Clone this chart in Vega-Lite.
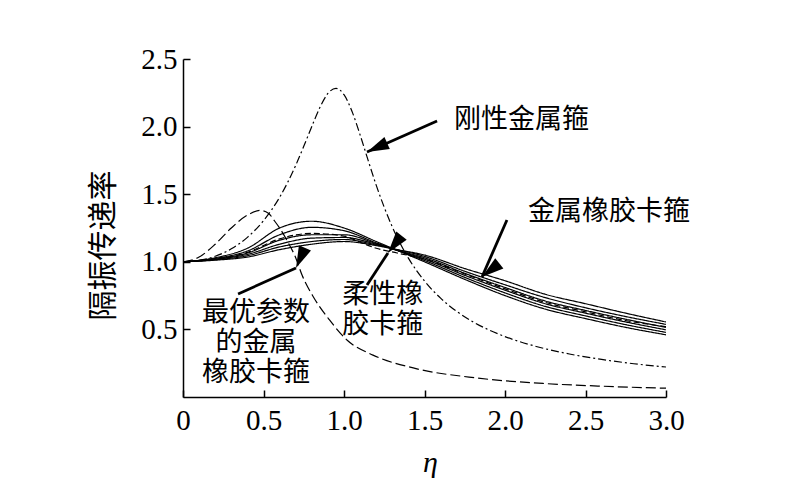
{
  "$schema": "https://vega.github.io/schema/vega-lite/v6.json",
  "autosize": {"type": "none"},
  "padding": {"left": 183, "top": 59, "right": 134, "bottom": 102},
  "width": 483,
  "height": 338,
  "background": "white",
  "config": {
    "view": {"stroke": null},
    "axis": {
      "domainColor": "black", "domainWidth": 1.5,
      "tickColor": "black", "tickWidth": 1.5, "tickSize": -7,
      "grid": false,
      "labelColor": "black", "labelFont": "Liberation Serif", "labelFontSize": 29,
      "titleColor": "black", "titleFontWeight": "normal"
    }
  },
  "datasets": {
    "curves": [
      {"curve": "刚性金属箍", "eta": 0, "T": 1.0},
      {"curve": "刚性金属箍", "eta": 0.1, "T": 1.01},
      {"curve": "刚性金属箍", "eta": 0.2, "T": 1.041},
      {"curve": "刚性金属箍", "eta": 0.3, "T": 1.096},
      {"curve": "刚性金属箍", "eta": 0.4, "T": 1.181},
      {"curve": "刚性金属箍", "eta": 0.5, "T": 1.304},
      {"curve": "刚性金属箍", "eta": 0.6, "T": 1.477},
      {"curve": "刚性金属箍", "eta": 0.65, "T": 1.587},
      {"curve": "刚性金属箍", "eta": 0.7, "T": 1.713},
      {"curve": "刚性金属箍", "eta": 0.75, "T": 1.854},
      {"curve": "刚性金属箍", "eta": 0.8, "T": 2.001},
      {"curve": "刚性金属箍", "eta": 0.85, "T": 2.141},
      {"curve": "刚性金属箍", "eta": 0.9, "T": 2.245},
      {"curve": "刚性金属箍", "eta": 0.95, "T": 2.283},
      {"curve": "刚性金属箍", "eta": 1.0, "T": 2.236},
      {"curve": "刚性金属箍", "eta": 1.05, "T": 2.112},
      {"curve": "刚性金属箍", "eta": 1.1, "T": 1.939},
      {"curve": "刚性金属箍", "eta": 1.15, "T": 1.75},
      {"curve": "刚性金属箍", "eta": 1.2, "T": 1.567},
      {"curve": "刚性金属箍", "eta": 1.25, "T": 1.403},
      {"curve": "刚性金属箍", "eta": 1.3, "T": 1.258},
      {"curve": "刚性金属箍", "eta": 1.4, "T": 1.027},
      {"curve": "刚性金属箍", "eta": 1.5, "T": 0.858},
      {"curve": "刚性金属箍", "eta": 1.6, "T": 0.731},
      {"curve": "刚性金属箍", "eta": 1.7, "T": 0.633},
      {"curve": "刚性金属箍", "eta": 1.8, "T": 0.557},
      {"curve": "刚性金属箍", "eta": 2.0, "T": 0.447},
      {"curve": "刚性金属箍", "eta": 2.2, "T": 0.372},
      {"curve": "刚性金属箍", "eta": 2.4, "T": 0.318},
      {"curve": "刚性金属箍", "eta": 2.6, "T": 0.278},
      {"curve": "刚性金属箍", "eta": 2.8, "T": 0.246},
      {"curve": "刚性金属箍", "eta": 3.0, "T": 0.222},

      {"curve": "最优参数的金属橡胶卡箍", "eta": 0, "T": 1.0},
      {"curve": "最优参数的金属橡胶卡箍", "eta": 0.1, "T": 1.035},
      {"curve": "最优参数的金属橡胶卡箍", "eta": 0.2, "T": 1.13},
      {"curve": "最优参数的金属橡胶卡箍", "eta": 0.3, "T": 1.25},
      {"curve": "最优参数的金属橡胶卡箍", "eta": 0.4, "T": 1.345},
      {"curve": "最优参数的金属橡胶卡箍", "eta": 0.48, "T": 1.38},
      {"curve": "最优参数的金属橡胶卡箍", "eta": 0.53, "T": 1.36},
      {"curve": "最优参数的金属橡胶卡箍", "eta": 0.57, "T": 1.3},
      {"curve": "最优参数的金属橡胶卡箍", "eta": 0.6, "T": 1.25},
      {"curve": "最优参数的金属橡胶卡箍", "eta": 0.645, "T": 1.16},
      {"curve": "最优参数的金属橡胶卡箍", "eta": 0.7, "T": 1.03},
      {"curve": "最优参数的金属橡胶卡箍", "eta": 0.74, "T": 0.9},
      {"curve": "最优参数的金属橡胶卡箍", "eta": 0.81, "T": 0.74},
      {"curve": "最优参数的金属橡胶卡箍", "eta": 0.91, "T": 0.57},
      {"curve": "最优参数的金属橡胶卡箍", "eta": 1.02, "T": 0.42},
      {"curve": "最优参数的金属橡胶卡箍", "eta": 1.18, "T": 0.31},
      {"curve": "最优参数的金属橡胶卡箍", "eta": 1.43, "T": 0.215},
      {"curve": "最优参数的金属橡胶卡箍", "eta": 1.83, "T": 0.14},
      {"curve": "最优参数的金属橡胶卡箍", "eta": 2.24, "T": 0.1},
      {"curve": "最优参数的金属橡胶卡箍", "eta": 2.6, "T": 0.08},
      {"curve": "最优参数的金属橡胶卡箍", "eta": 3.0, "T": 0.065},

      {"curve": "柔性橡胶卡箍", "eta": 0, "T": 1.0},
      {"curve": "柔性橡胶卡箍", "eta": 0.2, "T": 1.02},
      {"curve": "柔性橡胶卡箍", "eta": 0.4, "T": 1.07},
      {"curve": "柔性橡胶卡箍", "eta": 0.6, "T": 1.17},
      {"curve": "柔性橡胶卡箍", "eta": 0.8, "T": 1.21},
      {"curve": "柔性橡胶卡箍", "eta": 1.0, "T": 1.19},
      {"curve": "柔性橡胶卡箍", "eta": 1.1, "T": 1.145},
      {"curve": "柔性橡胶卡箍", "eta": 1.2, "T": 1.1},
      {"curve": "柔性橡胶卡箍", "eta": 1.33, "T": 1.065},
      {"curve": "柔性橡胶卡箍", "eta": 1.5, "T": 1.02},
      {"curve": "柔性橡胶卡箍", "eta": 1.75, "T": 0.91},
      {"curve": "柔性橡胶卡箍", "eta": 2.0, "T": 0.8},
      {"curve": "柔性橡胶卡箍", "eta": 2.25, "T": 0.7},
      {"curve": "柔性橡胶卡箍", "eta": 2.5, "T": 0.63},
      {"curve": "柔性橡胶卡箍", "eta": 2.75, "T": 0.565},
      {"curve": "柔性橡胶卡箍", "eta": 3.0, "T": 0.52},

      {"curve": "金属橡胶卡箍A", "eta": 0, "T": 1.0},
      {"curve": "金属橡胶卡箍A", "eta": 0.2, "T": 1.03},
      {"curve": "金属橡胶卡箍A", "eta": 0.4, "T": 1.1},
      {"curve": "金属橡胶卡箍A", "eta": 0.6, "T": 1.25},
      {"curve": "金属橡胶卡箍A", "eta": 0.8, "T": 1.3},
      {"curve": "金属橡胶卡箍A", "eta": 1.0, "T": 1.25},
      {"curve": "金属橡胶卡箍A", "eta": 1.2, "T": 1.15},
      {"curve": "金属橡胶卡箍A", "eta": 1.33, "T": 1.085},
      {"curve": "金属橡胶卡箍A", "eta": 1.5, "T": 1.0},
      {"curve": "金属橡胶卡箍A", "eta": 1.75, "T": 0.87},
      {"curve": "金属橡胶卡箍A", "eta": 2.0, "T": 0.75},
      {"curve": "金属橡胶卡箍A", "eta": 2.25, "T": 0.65},
      {"curve": "金属橡胶卡箍A", "eta": 2.5, "T": 0.58},
      {"curve": "金属橡胶卡箍A", "eta": 2.75, "T": 0.515},
      {"curve": "金属橡胶卡箍A", "eta": 3.0, "T": 0.46},

      {"curve": "金属橡胶卡箍B", "eta": 0, "T": 1.0},
      {"curve": "金属橡胶卡箍B", "eta": 0.2, "T": 1.025},
      {"curve": "金属橡胶卡箍B", "eta": 0.4, "T": 1.08},
      {"curve": "金属橡胶卡箍B", "eta": 0.6, "T": 1.2},
      {"curve": "金属橡胶卡箍B", "eta": 0.8, "T": 1.255},
      {"curve": "金属橡胶卡箍B", "eta": 1.0, "T": 1.23},
      {"curve": "金属橡胶卡箍B", "eta": 1.2, "T": 1.14},
      {"curve": "金属橡胶卡箍B", "eta": 1.33, "T": 1.085},
      {"curve": "金属橡胶卡箍B", "eta": 1.5, "T": 1.01},
      {"curve": "金属橡胶卡箍B", "eta": 1.75, "T": 0.885},
      {"curve": "金属橡胶卡箍B", "eta": 2.0, "T": 0.77},
      {"curve": "金属橡胶卡箍B", "eta": 2.25, "T": 0.67},
      {"curve": "金属橡胶卡箍B", "eta": 2.5, "T": 0.6},
      {"curve": "金属橡胶卡箍B", "eta": 2.75, "T": 0.535},
      {"curve": "金属橡胶卡箍B", "eta": 3.0, "T": 0.478},

      {"curve": "金属橡胶卡箍C", "eta": 0, "T": 1.0},
      {"curve": "金属橡胶卡箍C", "eta": 0.2, "T": 1.02},
      {"curve": "金属橡胶卡箍C", "eta": 0.4, "T": 1.065},
      {"curve": "金属橡胶卡箍C", "eta": 0.6, "T": 1.16},
      {"curve": "金属橡胶卡箍C", "eta": 0.8, "T": 1.2},
      {"curve": "金属橡胶卡箍C", "eta": 1.0, "T": 1.2},
      {"curve": "金属橡胶卡箍C", "eta": 1.2, "T": 1.135},
      {"curve": "金属橡胶卡箍C", "eta": 1.33, "T": 1.085},
      {"curve": "金属橡胶卡箍C", "eta": 1.5, "T": 1.02},
      {"curve": "金属橡胶卡箍C", "eta": 1.75, "T": 0.9},
      {"curve": "金属橡胶卡箍C", "eta": 2.0, "T": 0.79},
      {"curve": "金属橡胶卡箍C", "eta": 2.25, "T": 0.69},
      {"curve": "金属橡胶卡箍C", "eta": 2.5, "T": 0.62},
      {"curve": "金属橡胶卡箍C", "eta": 2.75, "T": 0.555},
      {"curve": "金属橡胶卡箍C", "eta": 3.0, "T": 0.497},

      {"curve": "金属橡胶卡箍D", "eta": 0, "T": 1.0},
      {"curve": "金属橡胶卡箍D", "eta": 0.2, "T": 1.018},
      {"curve": "金属橡胶卡箍D", "eta": 0.4, "T": 1.055},
      {"curve": "金属橡胶卡箍D", "eta": 0.6, "T": 1.13},
      {"curve": "金属橡胶卡箍D", "eta": 0.8, "T": 1.175},
      {"curve": "金属橡胶卡箍D", "eta": 1.0, "T": 1.18},
      {"curve": "金属橡胶卡箍D", "eta": 1.2, "T": 1.13},
      {"curve": "金属橡胶卡箍D", "eta": 1.33, "T": 1.085},
      {"curve": "金属橡胶卡箍D", "eta": 1.5, "T": 1.03},
      {"curve": "金属橡胶卡箍D", "eta": 1.75, "T": 0.915},
      {"curve": "金属橡胶卡箍D", "eta": 2.0, "T": 0.81},
      {"curve": "金属橡胶卡箍D", "eta": 2.25, "T": 0.71},
      {"curve": "金属橡胶卡箍D", "eta": 2.5, "T": 0.64},
      {"curve": "金属橡胶卡箍D", "eta": 2.75, "T": 0.575},
      {"curve": "金属橡胶卡箍D", "eta": 3.0, "T": 0.515},

      {"curve": "金属橡胶卡箍E", "eta": 0, "T": 1.0},
      {"curve": "金属橡胶卡箍E", "eta": 0.2, "T": 1.015},
      {"curve": "金属橡胶卡箍E", "eta": 0.4, "T": 1.045},
      {"curve": "金属橡胶卡箍E", "eta": 0.6, "T": 1.11},
      {"curve": "金属橡胶卡箍E", "eta": 0.8, "T": 1.15},
      {"curve": "金属橡胶卡箍E", "eta": 1.0, "T": 1.165},
      {"curve": "金属橡胶卡箍E", "eta": 1.2, "T": 1.125},
      {"curve": "金属橡胶卡箍E", "eta": 1.33, "T": 1.09},
      {"curve": "金属橡胶卡箍E", "eta": 1.5, "T": 1.04},
      {"curve": "金属橡胶卡箍E", "eta": 1.75, "T": 0.93},
      {"curve": "金属橡胶卡箍E", "eta": 2.0, "T": 0.83},
      {"curve": "金属橡胶卡箍E", "eta": 2.25, "T": 0.735},
      {"curve": "金属橡胶卡箍E", "eta": 2.5, "T": 0.66},
      {"curve": "金属橡胶卡箍E", "eta": 2.75, "T": 0.595},
      {"curve": "金属橡胶卡箍E", "eta": 3.0, "T": 0.537},

      {"curve": "金属橡胶卡箍F", "eta": 0, "T": 1.0},
      {"curve": "金属橡胶卡箍F", "eta": 0.2, "T": 1.012},
      {"curve": "金属橡胶卡箍F", "eta": 0.4, "T": 1.035},
      {"curve": "金属橡胶卡箍F", "eta": 0.6, "T": 1.09},
      {"curve": "金属橡胶卡箍F", "eta": 0.8, "T": 1.13},
      {"curve": "金属橡胶卡箍F", "eta": 1.0, "T": 1.15},
      {"curve": "金属橡胶卡箍F", "eta": 1.2, "T": 1.12},
      {"curve": "金属橡胶卡箍F", "eta": 1.33, "T": 1.09},
      {"curve": "金属橡胶卡箍F", "eta": 1.5, "T": 1.05},
      {"curve": "金属橡胶卡箍F", "eta": 1.75, "T": 0.95},
      {"curve": "金属橡胶卡箍F", "eta": 2.0, "T": 0.86},
      {"curve": "金属橡胶卡箍F", "eta": 2.25, "T": 0.76},
      {"curve": "金属橡胶卡箍F", "eta": 2.5, "T": 0.69},
      {"curve": "金属橡胶卡箍F", "eta": 2.75, "T": 0.62},
      {"curve": "金属橡胶卡箍F", "eta": 3.0, "T": 0.555}
    ],
    "arrows": [
      {"name": "刚性金属箍", "x": 1.578, "y": 2.041, "x2": 1.143, "y2": 1.812},
      {"name": "金属橡胶卡箍", "x": 2.012, "y": 1.309, "x2": 1.857, "y2": 0.888},
      {"name": "柔性橡胶卡箍", "x": 1.143, "y": 0.828, "x2": 1.273, "y2": 1.065},
      {"name": "最优参数的金属橡胶卡箍", "x": 0.342, "y": 0.762, "x2": 0.702, "y2": 0.954}
    ],
    "labels": [
      {"text": "刚性金属箍", "x": 2.102, "y": 2.049},
      {"text": "金属橡胶卡箍", "x": 2.646, "y": 1.368},
      {"text": "柔性橡", "x": 1.24, "y": 0.751},
      {"text": "胶卡箍", "x": 1.24, "y": 0.529},
      {"text": "最优参数", "x": 0.453, "y": 0.621},
      {"text": "的金属", "x": 0.453, "y": 0.399},
      {"text": "橡胶卡箍", "x": 0.453, "y": 0.177}
    ]
  },
  "layer": [
    {
      "data": {"name": "curves"},
      "mark": {"type": "line", "color": "black", "strokeWidth": 1.2, "interpolate": "monotone", "clip": true},
      "encoding": {
        "x": {
          "field": "eta", "type": "quantitative", "title": "η",
          "scale": {"domain": [0, 3], "nice": false, "zero": false},
          "axis": {
            "values": [0, 0.5, 1, 1.5, 2, 2.5, 3],
            "labelExpr": "datum.value == 0 ? '0' : format(datum.value, '.1f')",
            "labelPadding": 16, "labelFlush": false, "labelOverlap": false,
            "titleFont": "Liberation Serif", "titleFontStyle": "italic", "titleFontSize": 30,
            "titleX": 247, "titleY": 65, "titleBaseline": "middle", "titleAlign": "center"
          }
        },
        "y": {
          "field": "T", "type": "quantitative", "title": "隔振传递率",
          "scale": {"domain": [0, 2.5], "nice": false, "zero": false},
          "axis": {
            "values": [0.5, 1, 1.5, 2, 2.5],
            "format": ".1f",
            "labelPadding": 13, "labelFlush": false, "labelOverlap": false,
            "titleFont": "Noto Sans CJK SC", "titleFontSize": 30,
            "titleX": -80, "titleY": 186, "titleAngle": -90, "titleBaseline": "middle", "titleAlign": "center"
          }
        },
        "detail": {"field": "curve", "type": "nominal"},
        "strokeDash": {
          "field": "curve", "type": "nominal", "legend": null,
          "scale": {
            "domain": ["金属橡胶卡箍A", "金属橡胶卡箍B", "金属橡胶卡箍C", "金属橡胶卡箍D", "金属橡胶卡箍E", "金属橡胶卡箍F", "柔性橡胶卡箍", "最优参数的金属橡胶卡箍", "刚性金属箍"],
            "range": [[1, 0], [1, 0], [1, 0], [1, 0], [1, 0], [1, 0], [6, 3], [10, 4], [8, 3, 2, 3]]
          }
        }
      }
    },
    {
      "data": {"name": "arrows"},
      "mark": {"type": "rule", "color": "black", "strokeWidth": 2.8},
      "encoding": {
        "x": {"field": "x", "type": "quantitative", "title": "η"},
        "y": {"field": "y", "type": "quantitative", "title": "隔振传递率"},
        "x2": {"field": "x2"},
        "y2": {"field": "y2"}
      }
    },
    {
      "data": {"name": "arrows"},
      "mark": {"type": "point", "filled": true, "color": "black", "opacity": 1, "strokeWidth": 0, "shape": "M0,0L-0.3,1L0.3,1Z", "size": 1936},
      "encoding": {
        "x": {"field": "x2", "type": "quantitative", "title": "η"},
        "y": {"field": "y2", "type": "quantitative", "title": "隔振传递率"},
        "angle": {
          "field": "name", "type": "nominal", "legend": null,
          "scale": {
            "domain": ["刚性金属箍", "金属橡胶卡箍", "柔性橡胶卡箍", "最优参数的金属橡胶卡箍"],
            "range": [246, 204, 33, 66]
          }
        }
      }
    },
    {
      "data": {"name": "labels"},
      "mark": {"type": "text", "font": "Noto Sans CJK SC", "fontSize": 27, "color": "black", "align": "center", "baseline": "middle"},
      "encoding": {
        "x": {"field": "x", "type": "quantitative", "title": "η"},
        "y": {"field": "y", "type": "quantitative", "title": "隔振传递率"},
        "text": {"field": "text"}
      }
    }
  ]
}
